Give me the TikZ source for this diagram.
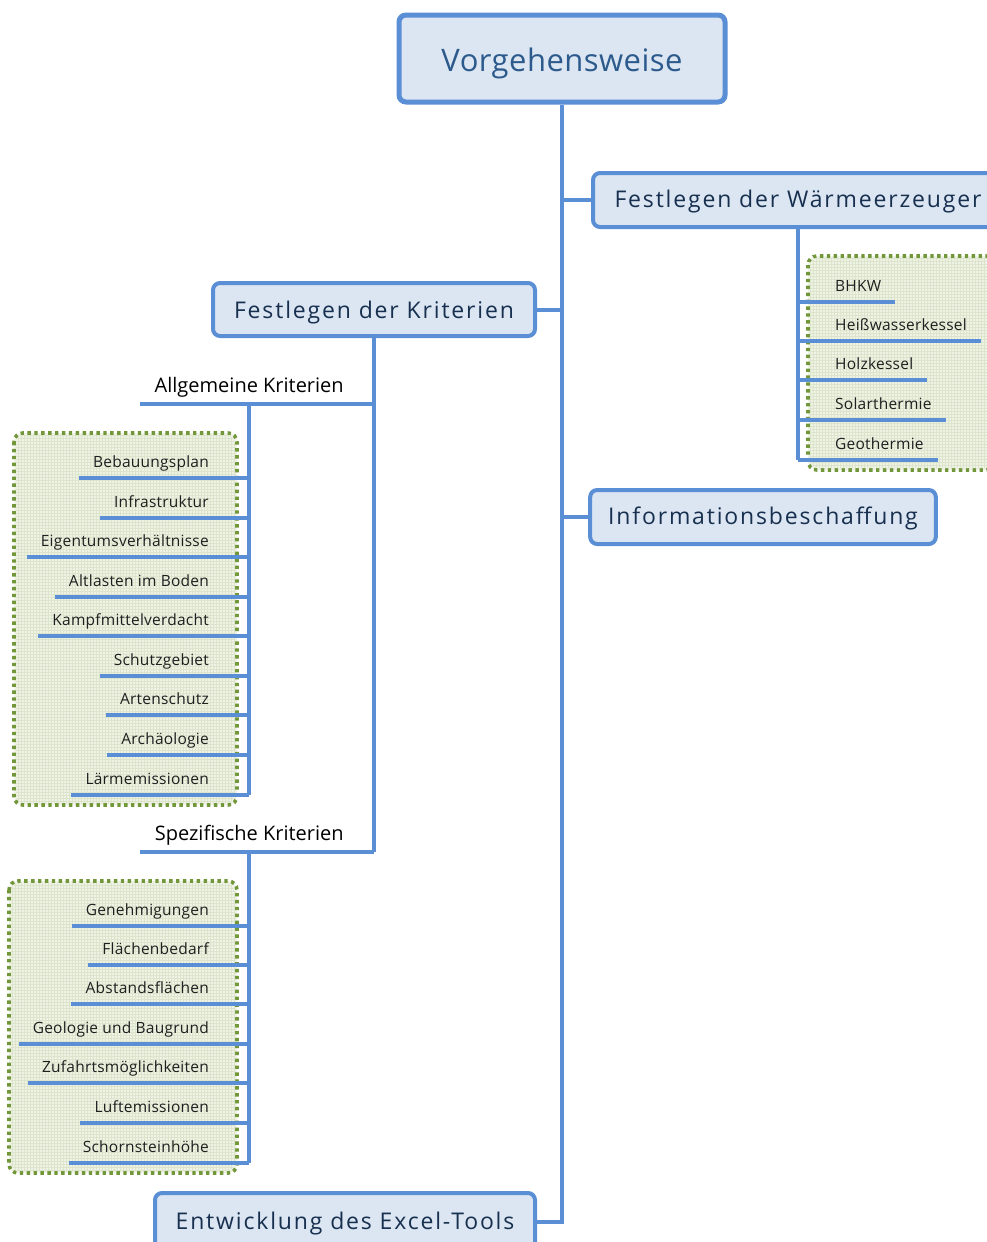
\documentclass[tikz,border=0pt]{standalone}
\usepackage{fontspec}
\setmainfont{Open Sans}
\newfontfamily\rootfont[LetterSpace=1.5]{Open Sans}
\newfontfamily\topicfont[LetterSpace=8]{Open Sans}
\newfontfamily\itemfont[LetterSpace=1.5]{Open Sans}
\usetikzlibrary{patterns}
\definecolor{LINEBLUE}{HTML}{5A8ED5}
\definecolor{BOXFILL}{HTML}{DCE6F2}
\definecolor{ROOTTEXT}{HTML}{2C5A8C}
\definecolor{TOPICTEXT}{HTML}{17304F}
\definecolor{DOTGREEN}{HTML}{72963A}
\definecolor{AREAGREEN}{HTML}{EFF3E6}
\definecolor{GRIDGREEN}{HTML}{DCE5CC}

\begin{document}
\begin{tikzpicture}[x=1pt, y=-1pt,
	conn/.style={draw=LINEBLUE, line width=4pt},
	topic/.style={draw=LINEBLUE, line width=4pt, fill=BOXFILL, rounded corners=7pt, text=TOPICTEXT, font=\topicfont\fontsize{23}{28}\selectfont, inner xsep=18pt, minimum height=54pt, text height=15pt, text depth=0pt},
	group/.style={text=black, font=\fontsize{20}{24}\selectfont, inner sep=0pt, inner ysep=11pt, text depth=0pt, minimum width=218pt},
	item/.style={text=black!88, font=\itemfont\fontsize{15.5}{18}\selectfont, inner xsep=14pt, inner ysep=10pt, text height=11pt, text depth=0pt},
	area/.style={draw=DOTGREEN, line width=3.6pt, dash pattern=on 3.4pt off 3.5pt, rounded corners=9pt, fill=AREAGREEN}]
	\useasboundingbox (0,0) rectangle (987,1242);

	\draw[area] (808,256) rectangle (995,470);
	\fill[pattern=grid, pattern color=GRIDGREEN, rounded corners=9pt] (810,258) rectangle (993,468);
	\draw[area] (14,433) rectangle (237,805);
	\fill[pattern=grid, pattern color=GRIDGREEN, rounded corners=9pt] (16,435) rectangle (235,803);
	\draw[area] (9,881) rectangle (237,1173);
	\fill[pattern=grid, pattern color=GRIDGREEN, rounded corners=9pt] (11,883) rectangle (235,1171);

	\node [topic, line width=5pt, text=ROOTTEXT, font=\rootfont\fontsize{31}{36}\selectfont, minimum width=326pt, minimum height=87pt, text height=25pt] (root) at (562,58.5) {Vorgehensweise};
	\node [topic, anchor=west, minimum width=410pt] (waerme) at (591,200) {Festlegen der Wärmeerzeuger};
	\node [topic, minimum width=322pt, minimum height=53pt, text height=17pt] (krit) at (374,309.5) {Festlegen der Kriterien};
	\node [topic, minimum width=344pt] (info) at (763,517) {Informationsbeschaffung};
	\node [topic, minimum width=380pt, minimum height=58pt] (entw) at (345,1222) {Entwicklung des Excel-Tools};

	\node [group, anchor=south west] (allg) at (140,404) {Allgemeine Kriterien};
	\node [group, anchor=south west] (spez) at (140,852) {Spezifische Kriterien};

	\node [item, anchor=south west] (bhkw)  at (821,302) {BHKW};
	\node [item, anchor=south west] (heiss) at (821,341) {Heißwasserkessel};
	\node [item, anchor=south west] (holz)  at (821,380) {Holzkessel};
	\node [item, anchor=south west] (solar) at (821,420) {Solarthermie};
	\node [item, anchor=south west] (geo)   at (821,460) {Geothermie};

	\node [item, anchor=south east] (bebau)  at (223,478) {Bebauungsplan};
	\node [item, anchor=south east] (infra)  at (223,518) {Infrastruktur};
	\node [item, anchor=south east] (eigen)  at (223,557) {Eigentumsverhältnisse};
	\node [item, anchor=south east] (altl)   at (223,597) {Altlasten im Boden};
	\node [item, anchor=south east] (kampf)  at (223,636) {Kampfmittelverdacht};
	\node [item, anchor=south east] (schutz) at (223,676) {Schutzgebiet};
	\node [item, anchor=south east] (arten)  at (223,715) {Artenschutz};
	\node [item, anchor=south east] (archae) at (223,755) {Archäologie};
	\node [item, anchor=south east] (laerm)  at (223,795) {Lärmemissionen};

	\node [item, anchor=south east] (geneh)  at (223,926) {Genehmigungen};
	\node [item, anchor=south east] (flaech) at (223,965) {Flächenbedarf};
	\node [item, anchor=south east] (abst)   at (223,1004) {Abstandsflächen};
	\node [item, anchor=south east] (baugr)  at (223,1044) {Geologie und Baugrund};
	\node [item, anchor=south east] (zufahr) at (223,1083) {Zufahrtsmöglichkeiten};
	\node [item, anchor=south east] (luft)   at (223,1123) {Luftemissionen};
	\node [item, anchor=south east] (schorn) at (223,1163) {Schornsteinhöhe};

	\draw[conn] (root.south) |- (entw.east);
	\draw[conn] (waerme.west -| root.south) -- (waerme.west);
	\draw[conn] (krit.east) -- (krit.east -| root.south);
	\draw[conn] (info.west -| root.south) -- (info.west);

	\draw[conn] (waerme.south) -- (waerme.south |- geo.south);
	\draw[conn] (bhkw.south west -| waerme.south) -- (bhkw.south east);
	\draw[conn] (heiss.south west -| waerme.south) -- (heiss.south east);
	\draw[conn] (holz.south west -| waerme.south) -- (holz.south east);
	\draw[conn] (solar.south west -| waerme.south) -- (solar.south east);
	\draw[conn] (geo.south west -| waerme.south) -- (geo.south east);

	\draw[conn] (krit.south) -- (krit.south |- spez.south);
	\draw[conn] (allg.south west) -- (allg.south west -| krit.south);
	\draw[conn] (spez.south west) -- (spez.south west -| krit.south);

	\draw[conn] (allg.south) -- (allg.south |- laerm.south);
	\draw[conn] (bebau.south west) -- (bebau.south west -| allg.south);
	\draw[conn] (infra.south west) -- (infra.south west -| allg.south);
	\draw[conn] (eigen.south west) -- (eigen.south west -| allg.south);
	\draw[conn] (altl.south west) -- (altl.south west -| allg.south);
	\draw[conn] (kampf.south west) -- (kampf.south west -| allg.south);
	\draw[conn] (schutz.south west) -- (schutz.south west -| allg.south);
	\draw[conn] (arten.south west) -- (arten.south west -| allg.south);
	\draw[conn] (archae.south west) -- (archae.south west -| allg.south);
	\draw[conn] (laerm.south west) -- (laerm.south west -| allg.south);

	\draw[conn] (spez.south) -- (spez.south |- schorn.south);
	\draw[conn] (geneh.south west) -- (geneh.south west -| spez.south);
	\draw[conn] (flaech.south west) -- (flaech.south west -| spez.south);
	\draw[conn] (abst.south west) -- (abst.south west -| spez.south);
	\draw[conn] (baugr.south west) -- (baugr.south west -| spez.south);
	\draw[conn] (zufahr.south west) -- (zufahr.south west -| spez.south);
	\draw[conn] (luft.south west) -- (luft.south west -| spez.south);
	\draw[conn] (schorn.south west) -- (schorn.south west -| spez.south);
\end{tikzpicture}
\end{document}
